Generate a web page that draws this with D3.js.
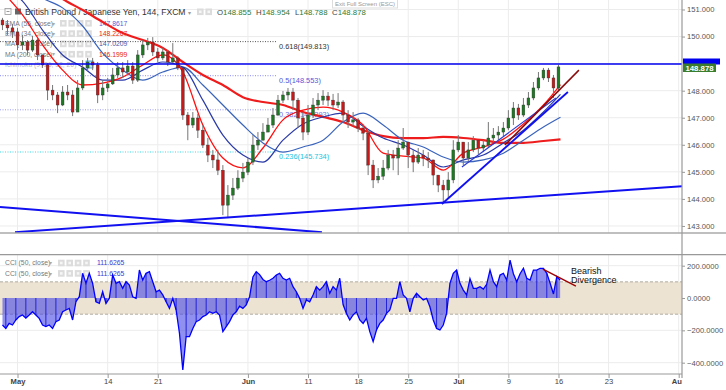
<!DOCTYPE html>
<html lang="en">
<head><meta charset="utf-8"/>
<script src="https://cdn.jsdelivr.net/npm/d3@7/dist/d3.min.js"></script>
<style>
body { margin:0; background:#fff; }
svg { display:block; font-family:"Liberation Sans", Arial, sans-serif; }
</style>
</head>
<body>
<svg id="chart" width="726" height="390"></svg>
<script>

// GBP/JPY 144 min, two candles per trading day from Apr 27 (day -1.5) to Jul 16 (day 54)
var closes = [150.43,150.32,150.17,149.69,149.80,149.50,149.87,149.32,148.95,148.02,
	147.84,147.47,147.95,147.84,147.21,148.10,148.84,149.06,148.95,147.84,
	148.10,148.25,148.58,148.84,148.69,148.91,148.39,149.32,149.69,149.80,
	149.43,149.21,149.43,149.06,149.21,148.84,147.10,146.73,146.99,146.54,
	145.99,145.62,145.44,145.06,143.77,144.14,144.40,144.77,144.99,145.36,
	145.99,146.17,146.47,146.73,147.10,147.65,147.84,147.95,147.65,146.99,
	146.47,147.10,147.47,147.65,147.80,147.65,147.47,147.58,147.10,146.84,
	146.92,146.62,146.43,145.25,144.70,144.84,145.14,145.62,145.51,145.88,
	146.10,145.62,145.36,145.62,145.51,145.44,144.88,144.51,144.33,144.70,
	145.81,146.10,145.51,145.81,146.17,145.88,145.99,146.25,146.36,146.47,
	146.62,146.99,147.36,147.10,147.47,147.73,148.10,148.47,148.76,148.47,
	148.10,148.878];
var highs = [150.69,150.61,150.46,150.32,150.06,149.87,150.02,149.95,149.32,149.02,
	148.21,147.95,148.17,148.21,148.02,148.39,149.13,149.21,149.21,149.06,
	148.39,148.47,148.84,149.06,149.06,149.13,149.06,149.50,149.87,149.95,
	149.98,149.58,149.58,149.50,149.76,149.28,148.84,147.21,147.21,147.14,
	146.73,146.25,145.81,145.81,145.25,144.51,144.77,145.06,145.33,145.51,
	146.36,146.47,146.80,146.99,147.36,147.84,147.99,148.10,148.10,147.73,
	147.21,147.47,147.73,147.91,148.02,147.95,147.88,147.91,147.65,147.28,
	147.21,146.99,146.73,146.54,145.44,145.14,145.44,145.81,145.81,146.17,
	146.62,146.10,145.81,145.88,145.81,145.73,145.44,144.88,144.70,144.99,
	146.17,146.36,146.10,146.10,146.32,146.17,146.17,146.84,146.62,146.69,
	146.84,147.28,147.58,147.51,147.73,147.95,148.32,148.69,148.84,148.84,
	148.58,148.954];
var lows = [150.24,150.06,149.95,149.50,149.50,149.32,149.43,149.13,148.84,147.65,
	147.65,147.17,147.43,147.65,147.06,147.21,148.02,148.69,148.76,147.54,
	147.65,147.95,148.21,148.47,148.47,148.58,148.25,148.32,149.21,149.50,
	149.28,149.06,149.13,148.91,148.99,148.76,146.92,146.17,146.62,146.25,
	145.88,145.36,145.14,144.88,143.40,143.29,143.96,144.33,144.62,144.88,
	145.25,145.81,146.17,146.47,146.62,147.06,147.54,147.65,147.28,146.62,
	146.17,146.36,146.99,147.28,147.47,147.43,147.28,147.36,146.84,146.62,
	146.69,146.47,146.17,144.88,144.40,144.58,144.70,145.06,145.06,144.88,
	145.81,145.14,144.99,145.29,145.21,145.14,144.51,144.25,143.85,144.03,
	144.58,145.73,145.25,145.36,145.73,145.66,145.73,145.88,146.10,146.17,
	146.32,146.54,146.73,146.92,147.03,147.36,147.65,148.02,148.39,148.32,
	147.73,148.02];
var firstOpen = 150.61;

// moving averages, one value every two trading days (last one at Jul 16)
var ema34 = [151.65,150.80,149.69,148.76,148.21,148.28,148.50,148.95,149.32,148.69,
	146.73,145.51,145.15,145.88,146.92,147.28,147.39,147.21,146.73,145.69,
	145.58,145.51,145.06,145.69,145.92,146.21,146.77,147.47,148.2267];
var ema55 = [151.79,151.31,150.24,149.32,148.87,148.39,148.39,148.76,149.06,148.87,
	147.65,146.36,145.62,145.36,146.17,146.77,147.03,147.17,146.69,146.25,
	145.99,145.62,145.18,145.44,145.62,146.07,146.54,147.21,147.8617];
var ma100 = [152.46,151.91,151.42,151.06,150.39,149.39,148.76,148.39,148.69,148.87,
	148.21,147.47,146.73,146.07,145.73,145.92,146.17,146.84,147.17,146.73,
	146.17,145.92,145.55,145.36,145.44,145.69,146.17,146.66,147.0209];
var ma200 = [153.01,152.46,151.91,151.39,150.98,150.54,150.13,149.87,149.58,149.06,
	148.58,148.21,147.76,147.58,147.47,147.21,147.03,146.84,146.54,146.32,
	146.25,146.25,146.29,146.25,146.17,146.07,146.07,146.14,146.1999];

// CCI(50), three values per trading day
var cci = [-167,-188,-157,-167,-136,-115,-105,-124,-105,-85,
	-105,-126,-167,-177,-167,-188,-146,-136,-85,-74,
	-64,-136,-23,8,153,91,153,91,-23,-33,
	39,-33,-2,142,91,101,60,101,80,8,
	-2,173,111,153,163,101,39,49,19,-23,
	-64,-2,-74,-218,-445,-239,-239,-188,-146,-136,
	-115,-105,-85,-95,-85,-105,-208,-177,-146,-105,
	-85,-50,-64,-43,8,130,163,145,115,101,
	110,122,142,153,122,111,122,70,39,-2,
	-64,-12,-23,19,70,49,70,101,29,70,
	49,122,-40,-95,-136,-105,-85,-136,-157,-126,
	-208,-270,-198,-157,-136,-95,-74,-2,-2,101,
	19,-2,-85,-2,29,8,-12,-2,-54,-136,
	-188,-198,-167,-95,91,153,173,91,49,19,
	120,60,60,70,55,85,173,101,70,142,
	153,111,235,150,100,150,184,122,111,173,
	173,184,184,153,91,25,132,111.6265];

// x axis: trading-day index of each label (May 1 = 0, weekends skipped)
var tickLabels = ["May","14","21","Jun","11","18","25","Jul","9","16","23","Aug"];
var tickDays = [0,9,14,23,29,34,39,44,49,54,59,66];
var monthTicks = ["May","Jun","Jul","Aug"];
var priceGrid = [151,150,149,148,147,146,145,144,143];
var priceTicks = [151,150,148,147,146,145,144,143];   // 149 sits under the price tag
var cciTicks = [200,0,-200,-400];

var fibRatios = [0.618,0.5,0.382,0.236];
var fibPrices = [149.813,148.553,147.293,145.734];

// drawn objects, [day, price]
var hLevel = 148.99;
var trendDown = [[-1.747,143.70],[30.39,142.77]];
var trendUp = [[-0.25,142.77],[66.33,144.47]];
var trendJulA = [[42.36,143.81],[54.94,147.95]];
var trendJulB = [[44.36,145.18],[53.74,147.73]];
var trendBrown = [[48.65,145.99],[56.04,148.76]];
var divergence = [[52.44,179],[55.74,74]];

var ohlc = [["O","148.855"],["H","148.954"],["L","148.788"],["C","148.878"]];
var legendRows = [["EMA (55, close)","147.8617","#5060d8"],["EMA (34, close)","148.2267","#e82020"],
	["MA (100, close)","147.0209","#3a58b0"],["MA (200, close)","146.1999","#e82020"]];
var cciLegend = [["CCI (50, close)","111.6265"],["CCI (50, close)","111.6265"]];

var axisX = 682,
    mainBottom = 233,
    subTop = 254.7, subBottom = 374;

var x = d3.scaleLinear().domain([-1.747, 66.33]).range([0, axisX]);
var y = d3.scaleLinear().domain([142.74, 151.351]).range([mainBottom, 0]);
var yc = d3.scaleLinear().domain([-470, 268]).range([subBottom, subTop]);

var svg = d3.select("#chart");
var defs = svg.append("defs");
defs.append("clipPath").attr("id","clipMain").append("rect")
	.attr("x",0).attr("y",0).attr("width",axisX).attr("height",mainBottom);
defs.append("clipPath").attr("id","clipSub").append("rect")
	.attr("x",0).attr("y",subTop).attr("width",axisX).attr("height",subBottom-subTop);
// local to the translated date axis group
defs.append("clipPath").attr("id","clipDates").append("rect")
	.attr("x",0).attr("y",0).attr("width",axisX).attr("height",16);

// grid
var grid = svg.append("g").attr("stroke","#ececec").attr("stroke-width",1);
grid.selectAll(".hp").data(priceGrid).enter().append("line")
	.attr("x1",0).attr("x2",axisX).attr("y1",d=>y(d)).attr("y2",d=>y(d));
grid.selectAll(".hc").data(cciTicks).enter().append("line")
	.attr("x1",0).attr("x2",axisX).attr("y1",d=>yc(d)).attr("y2",d=>yc(d));
grid.selectAll(".vm").data(tickDays).enter().append("line")
	.attr("x1",d=>x(d)).attr("x2",d=>x(d)).attr("y1",0).attr("y2",mainBottom);
grid.selectAll(".vs").data(tickDays).enter().append("line")
	.attr("x1",d=>x(d)).attr("x2",d=>x(d)).attr("y1",subTop).attr("y2",subBottom);

function icons(g, x0, yc0, n){
	for(var i=0;i<n;i++){
		g.append("rect").attr("x",x0+i*8.4).attr("y",yc0-3.3).attr("width",6.6).attr("height",6.6)
			.attr("fill","#dcdcdc");
		g.append("rect").attr("x",x0+i*8.4+2).attr("y",yc0-1.3).attr("width",2.6).attr("height",2.6)
			.attr("fill","#f6f6f6");
	}
}

// header and legends (drawn under the series, as in the original)
var head = svg.append("g");
head.append("rect").attr("x",5).attr("y",8.5).attr("width",6).attr("height",6)
	.attr("fill","none").attr("stroke","#999").attr("stroke-width",0.8);
head.append("line").attr("x1",6.5).attr("x2",9.5).attr("y1",11.5).attr("y2",11.5).attr("stroke","#999");
head.append("rect").attr("x",15).attr("y",8.5).attr("width",6).attr("height",6).attr("fill","#666");
head.append("text").attr("x",25).attr("y",15).attr("font-size",8.6).attr("fill","#333")
	.text("British Pound / Japanese Yen, 144, FXCM");
head.append("text").attr("x",188).attr("y",14.5).attr("font-size",6).attr("fill","#999").text("▾");
icons(head, 197, 11.8, 2);
ohlc.forEach(function(o, i){
	var t = head.append("text").attr("x",[217,256,295,332][i]).attr("y",15).attr("font-size",7.8);
	t.append("tspan").attr("fill","#444").text(o[0]);
	t.append("tspan").attr("fill","#2f7a34").text(o[1]);
});
legendRows.forEach(function(r, i){
	var yy = 23.3 + i*10.3;
	head.append("text").attr("x",5).attr("y",yy+2.4).attr("font-size",6.8).attr("fill","#777").text(r[0]);
	head.append("text").attr("x",52).attr("y",yy+2.2).attr("font-size",5.5).attr("fill","#aaa").text("▾");
	icons(head, 60, yy, 4);
	head.append("text").attr("x",99).attr("y",yy+2.4).attr("font-size",6.8).attr("fill",r[2]).text(r[1]);
});
head.append("text").attr("x",5).attr("y",67.4).attr("font-size",6.8).attr("fill","#b8b8c8")
	.text("Ichimoku (9, 26, 52, 26)");
head.append("rect").attr("x",86).attr("y",61).attr("width",7).attr("height",7)
	.attr("fill","#bfe6f5").attr("stroke","#2aa0e0").attr("stroke-width",0.8);
cciLegend.forEach(function(r, i){
	var yy = 263 + i*10.4;
	head.append("text").attr("x",5).attr("y",yy+2.4).attr("font-size",6.8).attr("fill","#777").text(r[0]);
	head.append("text").attr("x",49).attr("y",yy+2.2).attr("font-size",5.5).attr("fill","#aaa").text("▾");
	icons(head, 58, yy, 4);
	head.append("text").attr("x",97).attr("y",yy+2.4).attr("font-size",6.8).attr("fill","#3838d0").text(r[1]);
});

// CCI panel
var sub = svg.append("g").attr("clip-path","url(#clipSub)");
sub.append("rect").attr("x",0).attr("width",axisX)
	.attr("y",yc(100)).attr("height",yc(-100)-yc(100)).attr("fill","#ece3d3");
[100,-100].forEach(function(v){
	sub.append("line").attr("x1",0).attr("x2",axisX).attr("y1",yc(v)).attr("y2",yc(v))
		.attr("stroke","#b0aba0").attr("stroke-dasharray","3,2");
});
var cciPts = cci.map((v,i) => ({d: -1.5 + i/3, v: v}));
sub.append("path").datum(cciPts)
	.attr("fill","#4646e6").attr("fill-opacity",0.6)
	.attr("d", d3.area().x(d=>x(d.d)).y0(yc(0)).y1(d=>yc(d.v)));
sub.selectAll(".bar").data(cciPts.filter((d,i)=>i%3==1)).enter().append("line")
	.attr("x1",d=>x(d.d)).attr("x2",d=>x(d.d)).attr("y1",yc(0)).attr("y2",d=>yc(d.v))
	.attr("stroke","#2323d8").attr("stroke-width",1);
sub.append("path").datum(cciPts)
	.attr("fill","none").attr("stroke","#0000ff").attr("stroke-width",1.3)
	.attr("d", d3.line().x(d=>x(d.d)).y(d=>yc(d.v)));
sub.append("line").attr("x1",x(divergence[0][0])).attr("y1",yc(divergence[0][1]))
	.attr("x2",x(divergence[1][0])).attr("y2",yc(divergence[1][1]))
	.attr("stroke","#a00000").attr("stroke-width",1.4);
svg.append("text").attr("x",571).attr("y",274).attr("font-size",9).attr("fill","#111").text("Bearish");
svg.append("text").attr("x",571).attr("y",283).attr("font-size",9).attr("fill","#111").text("Divergence");

// price panel
var plot = svg.append("g").attr("clip-path","url(#clipMain)");
var fibColors = ["#555","#8a8af0","#9a9af0","#40d8e8"];
var fibText = ["#333","#5656d8","#7070e0","#20c4e0"];
fibPrices.forEach(function(p, i){
	plot.append("line").attr("x1",0).attr("x2",276).attr("y1",y(p)).attr("y2",y(p))
		.attr("stroke",fibColors[i]).attr("stroke-dasharray","1,1.5").attr("stroke-width",1);
	plot.append("text").attr("x",279).attr("y",y(p)+4.6).attr("dy","0.35em")
		.attr("font-size",7.4).attr("fill",fibText[i])
		.text(fibRatios[i] + "(" + d3.format(".3f")(p) + ")");
});

var maDay = d3.range(-1.5, 53, 2).concat([54.2]);
var maLine = d3.line().curve(d3.curveMonotoneX).x((d,i)=>x(maDay[i])).y(d=>y(d));
plot.append("path").datum(ma200).attr("d",maLine).attr("fill","none")
	.attr("stroke","#ee1c1c").attr("stroke-width",2.2);
plot.append("path").datum(ma100).attr("d",maLine).attr("fill","none")
	.attr("stroke","#3a64bc").attr("stroke-width",1.2);
plot.append("path").datum(ema55).attr("d",maLine).attr("fill","none")
	.attr("stroke","#2a3aa8").attr("stroke-width",1.2);
plot.append("path").datum(ema34).attr("d",maLine).attr("fill","none")
	.attr("stroke","#ff1010").attr("stroke-width",1.3);

var candles = closes.map((c,i) => ({
	d: -1.5 + i/2, o: i ? closes[i-1] : firstOpen, c: c, h: highs[i], l: lows[i]
}));
var cg = plot.selectAll(".candle").data(candles).enter().append("g");
cg.append("line").attr("x1",d=>x(d.d)).attr("x2",d=>x(d.d))
	.attr("y1",d=>y(d.h)).attr("y2",d=>y(d.l)).attr("stroke","#777").attr("stroke-width",1);
cg.append("rect").attr("x",d=>x(d.d)-1.4).attr("width",2.8)
	.attr("y",d=>y(Math.max(d.o,d.c)))
	.attr("height",d=>Math.max(1,Math.abs(y(d.o)-y(d.c))))
	.attr("fill",d=>d.c>=d.o ? "#1d7a22" : "#c81818")
	.attr("stroke","#333").attr("stroke-width",0.4);

function seg(pts, color, w){
	plot.append("line").attr("x1",x(pts[0][0])).attr("y1",y(pts[0][1]))
		.attr("x2",x(pts[1][0])).attr("y2",y(pts[1][1]))
		.attr("stroke",color).attr("stroke-width",w);
}
seg(trendDown,"#1010f0",2);
seg(trendUp,"#1010f0",2);
seg(trendJulA,"#1010f0",1.8);
seg(trendJulB,"#2a3ad0",1.2);
seg(trendBrown,"#8b0a0a",1.5);
plot.append("line").attr("x1",0).attr("x2",axisX).attr("y1",y(hLevel)).attr("y2",y(hLevel))
	.attr("stroke","#0000ee").attr("stroke-width",1.5);

// frames and axes
svg.append("line").attr("x1",0).attr("x2",726).attr("y1",mainBottom).attr("y2",mainBottom)
	.attr("stroke","#aaa").attr("stroke-width",1.5);
svg.append("line").attr("x1",0).attr("x2",726).attr("y1",subTop).attr("y2",subTop)
	.attr("stroke","#999").attr("stroke-width",1.2);
svg.append("line").attr("x1",0).attr("x2",axisX).attr("y1",subBottom).attr("y2",subBottom)
	.attr("stroke","#999").attr("stroke-width",1.2);
svg.append("line").attr("x1",axisX).attr("x2",axisX).attr("y1",0).attr("y2",378)
	.attr("stroke","#999").attr("stroke-width",1.2);

var ay = svg.append("g").attr("transform","translate(" + axisX + ",0)")
	.call(d3.axisRight(y).tickValues(priceTicks).tickFormat(d3.format(".3f")).tickSize(3).tickPadding(2));
var ac = svg.append("g").attr("transform","translate(" + axisX + ",0)")
	.call(d3.axisRight(yc).tickValues(cciTicks).tickFormat(d3.format(".4f")).tickSize(3).tickPadding(2));
var ax = svg.append("g").attr("transform","translate(0," + subBottom + ")")
	.attr("clip-path","url(#clipDates)")
	.call(d3.axisBottom(x).tickValues(tickDays).tickFormat((d,i)=>tickLabels[i]).tickSize(4).tickPadding(1));
[ay, ac, ax].forEach(function(a){
	a.select(".domain").remove();
	a.selectAll("line").attr("stroke","#999");
	a.selectAll("text").attr("fill","#555").attr("font-size",7.6)
		.attr("font-family",'"Liberation Sans", Arial, sans-serif');
});
ax.selectAll("text").attr("fill","#444")
	.attr("font-weight",d=>monthTicks.indexOf(tickLabels[tickDays.indexOf(d)])>=0 ? "bold" : "normal");

// current price labels
svg.append("rect").attr("x",683).attr("y",58.5).attr("width",37).attr("height",6).attr("fill","#0000ee");
svg.append("rect").attr("x",683).attr("y",63.5).attr("width",33).attr("height",8.5).attr("fill","#3a7d2c");
svg.append("text").attr("x",699.5).attr("y",67.8).attr("dy","0.35em").attr("text-anchor","middle")
	.attr("font-size",7.8).attr("font-weight","bold").attr("fill","#fff").text(d3.format(".3f")(closes[closes.length-1]));

// fullscreen hint
svg.append("rect").attr("x",332.5).attr("y",-1).attr("width",65).attr("height",9)
	.attr("fill","#fff").attr("stroke","#ddd");
svg.append("text").attr("x",335).attr("y",6).attr("font-size",6).attr("fill","#999").text("Exit Full Screen (ESC)");

</script>
</body>
</html>
